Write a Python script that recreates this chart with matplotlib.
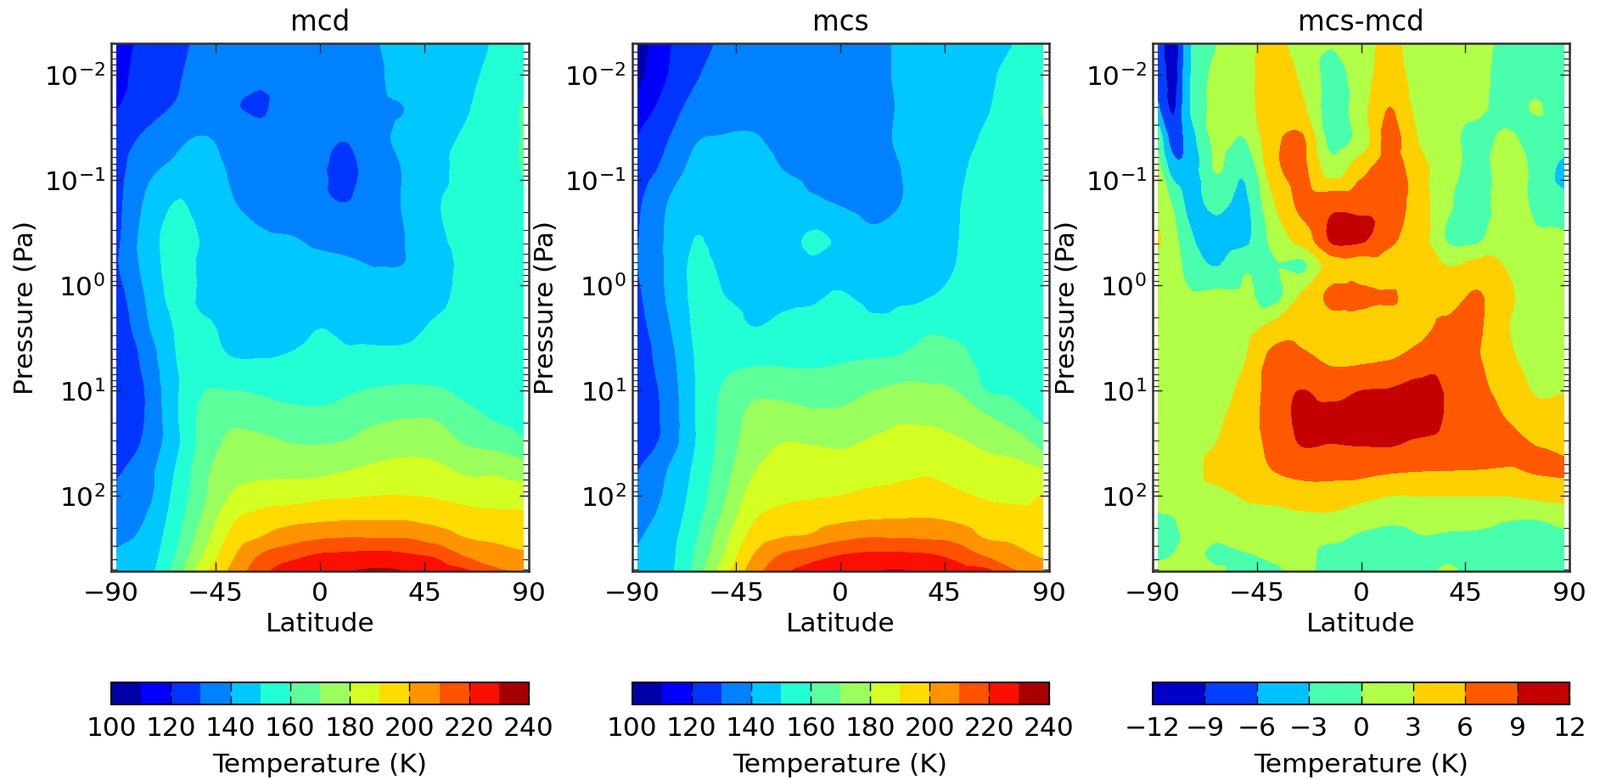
"""Latitude-pressure temperature sections: mcd, mcs and their difference."""

import matplotlib
matplotlib.use('Agg')
import matplotlib.pyplot as plt
import matplotlib.tri as mtri
from matplotlib.ticker import LogLocator, NullFormatter
import numpy as np

plt.rcParams['font.family'] = ['DejaVu Sans']
plt.rcParams['mathtext.default'] = 'regular'

pressure = [0.005, 0.01, 0.02, 0.04, 0.08, 0.16, 0.38, 0.63, 1.26, 2.5,
            5, 10, 17.8, 31.6, 56, 100, 158, 251, 355, 525]
lat = [-87.5, -75, -62.5, -50, -37.5, -25, -12.5, 0, 12.5, 25, 37.5, 50, 62.5, 75, 87.5]
lat_diff = [-87.5, -81, -75, -62.5, -50, -37.5, -25, -12.5, 0, 12.5, 25, 37.5, 50, 62.5, 75, 87.5]

# one list per latitude, top of the atmosphere first
mcd_cols = [
    [115, 117, 119.5, 124, 126, 127, 128, 129, 125, 122, 121, 121, 122, 123, 128, 133, 136, 138, 141, 143],
    [123, 124, 125, 132, 137.5, 141, 144, 143, 140.5, 138, 133, 130.5, 130.5, 132, 136, 137, 140, 142.5, 144, 146],
    [128, 129, 130.5, 137.5, 142, 150, 154, 154, 153, 150.5, 149.5, 148, 148, 147, 150, 152.5, 154.5, 157, 159.5, 163],
    [131.5, 132, 133, 140.5, 146, 146, 149, 148, 148.5, 151, 153, 159.5, 163, 164, 167, 168.5, 171.5, 176, 180, 187],
    [134, 134, 130.7, 136, 138, 140.3, 145, 146, 146, 148, 150.2, 160, 168, 172, 176, 181, 188, 193.5, 198, 203],
    [135, 132, 128.7, 133, 135, 136, 142, 145, 145, 147, 150, 158.5, 166, 172, 177, 185, 193, 200.5, 210, 217],
    [135, 135, 136, 132, 133, 133, 141, 144, 145, 147, 151, 156, 164, 170, 177, 186, 195.6, 206, 215.5, 226],
    [136, 136, 135, 131.5, 130.7, 131, 138, 143, 145, 149.8, 153, 156, 163, 169.5, 177, 188, 197, 209, 220, 229],
    [137, 137, 137, 130.5, 128, 130, 136, 141.5, 145, 147, 152.5, 159, 165, 171, 179.5, 189, 198, 210, 221, 230],
    [139.8, 139, 138, 138, 136, 135, 135, 139.5, 145, 147.5, 152.5, 161, 168, 175, 182, 190, 198, 209.5, 222, 232],
    [143, 144, 140.3, 142, 141, 141.5, 140.3, 140.3, 145, 148, 152.5, 162, 169.5, 176.5, 183, 190, 198, 209.5, 220, 230],
    [145, 146, 145, 147, 147, 149, 147.5, 146, 148, 151, 153, 161, 169, 175.5, 182, 189, 196, 205.5, 217, 227],
    [148, 148, 149, 151, 153, 153, 153, 152, 152, 153, 154, 158, 163, 169.5, 178, 187, 193.5, 200, 208, 222],
    [150.5, 152, 154, 155, 157, 156, 156, 155, 155, 155, 155, 156, 159, 167, 178, 185.5, 192.5, 198, 204.5, 212],
    [155, 156, 160.5, 160.5, 160.2, 159, 158, 157, 156, 156, 156, 155, 156, 162, 175, 185, 192, 197, 201, 209],
]

mcs_cols = [
    [104, 107, 113, 120.5, 124, 128, 129.5, 130, 128, 126, 125, 124, 124, 126, 129.5, 133, 136, 139, 141, 144],
    [118, 119.5, 124, 129, 133, 139.5, 141, 141, 140.5, 138, 135, 133, 132.5, 133, 139.5, 141.5, 143.5, 145.5, 146, 147],
    [127, 129, 133, 139, 143, 147, 150.3, 152, 152, 151.5, 150.5, 150, 150, 150, 152, 154, 156, 159, 161, 163],
    [131, 133, 135, 140.5, 142.5, 144, 146, 148, 150, 153, 157, 161.5, 163, 164, 166, 169, 172.5, 177, 180, 186],
    [133, 135, 137.5, 140.5, 143, 144.5, 146, 147, 148, 150, 158, 167.5, 172.5, 175, 179, 184, 188.5, 194, 199.5, 205],
    [134, 135, 136, 138, 140, 143, 145, 147, 148.5, 152, 158, 167, 174, 180, 184, 188, 193, 200, 210, 218],
    [135, 135, 136, 137, 138.5, 141, 152, 148.5, 149, 153, 158, 165, 172.5, 179.5, 184, 189, 195, 202, 215, 224],
    [135, 135, 135, 136, 137, 139, 148.5, 148, 150.5, 155, 159, 166, 172.5, 178.5, 185, 190, 197, 207.5, 219, 228],
    [136, 136, 136, 136, 136, 136.5, 143, 146, 148.5, 152, 160, 169.5, 175.5, 181, 186, 192, 198.5, 210, 221, 229.5],
    [141, 141, 140.5, 141, 139.5, 139.5, 144, 146, 149, 152.5, 161, 172, 178.5, 183, 188, 192.5, 199, 209.5, 221, 231],
    [142, 143, 144, 144, 144, 144.5, 146, 147.5, 149.5, 158, 165, 171.5, 178, 184, 188.5, 194, 199.5, 209, 220, 228],
    [145, 145.5, 146, 146.5, 148, 149, 149.5, 150, 152, 157.5, 163, 170, 176, 181.5, 186.5, 191.5, 197.5, 207, 216, 225],
    [147, 148, 149, 151, 153, 154, 155, 155, 155, 155.5, 157, 160, 171, 178, 184, 189, 194, 199.5, 208, 223],
    [150, 153, 154, 155, 155, 155, 155, 155, 155, 155, 156, 158, 165, 175, 183, 188, 193, 198, 203, 211],
    [154, 156, 160.5, 158, 157, 156, 155, 155, 155, 155, 155, 156, 158, 166, 180, 190, 192, 195, 198, 206],
]

diff_cols = [
    [-7, -6.5, -5.8, -1, 1, 1.5, 3.3, 2, 1.5, 1.5, 1.5, 1.5, 1.5, 1.5, 1, 1, -0.3, -1, -0.5, 1],
    [-11, -10.5, -9.5, -7.5, -4.5, -0.5, 1, 1.5, 1.5, 1.5, 1.5, 1.5, 1.5, 1.5, 1.5, 1.5, 0, -1.3, 0, 1],
    [-4, -4, -3.8, -5, -5, -3.6, -2, -1, 0.5, 1.5, 1.5, 1.5, 1.5, 1.5, 1.5, 1.5, 1, 1, 1, 1],
    [-0.1, 0.8, 1, 0.8, 0.2, -2, -4.5, -3.2, 0.7, 1.5, 1.5, 1.8, 2.5, 3, 4, 2, 1, 0.3, -0.8, 0.4],
    [2, 2, 1.8, 0, -2.5, -3.5, -3.5, -0.5, 0.5, 2, 2.9, 4, 4.5, 4.5, 4.5, 3.3, 2, 1, -0.1, -1],
    [3.6, 4.5, 5, 5.3, 5, 3, 1, -0.3, -1, 4, 7, 7.5, 7.5, 7, 6.1, 3.8, 2, 1, 0.5, -0.5],
    [1.5, 2.3, 3.3, 6.2, 6.5, 6.8, 4, -0.5, 3.5, 5, 6.5, 9.05, 9.6, 9.2, 7, 4.5, 2.5, 1.2, 0.8, 0.5],
    [0.2, -1, -1.5, -1.2, 1.5, 7.8, 9.3, 4.5, 6.8, 4.8, 5.5, 8, 10, 9, 7, 4.5, 2.5, 0.5, -1, -1],
    [1.5, 1.5, 1.8, 1.2, 5, 8, 9.2, 4.5, 6.8, 4.5, 5.5, 9, 10.5, 9.2, 7, 3.8, 1.5, -0.5, -1, -1],
    [3.8, 4.5, 6, 7, 7.5, 7.5, 6.5, 4.5, 6.2, 5, 5.9, 9.2, 10.5, 9.3, 6.5, 3, 0.8, -1, -1.5, -1.5],
    [1, 1.5, 2, 2.8, 4, 4.5, 4.5, 4.5, 5, 5.3, 7, 10, 10.5, 8.5, 6.2, 3, 1, -0.2, -1, -1],
    [1.5, 1.5, 1.5, 1, 1.5, 0.5, -0.2, 2.8, 4.7, 6.6, 8, 8.7, 8.7, 8, 6.1, 3, 1, -0.3, -0.4, 0.4],
    [1.5, 1, 0.7, -1, -1.5, -1.5, -0.3, 3.8, 6.3, 6.5, 6.3, 6.8, 7.5, 7.7, 6, 3, 1, -0.5, -1, -1],
    [-1, -1.2, -1, 0.5, 1.5, 1.5, 2, 2.8, 3.8, 3.3, 3.8, 5, 5.9, 7, 5.8, 3, 0.4, -1, -1.5, -1.5],
    [-1.5, -1, 0.15, -1, -0.6, -0.5, 0.5, 1.5, 1.5, 1.5, 2, 2.8, 4, 5.9, 6.3, 3.5, 0.3, -1.5, -1.5, -1.5],
    [-1.5, -1.5, -1, -1.5, -4, -2, 0.5, 1, 1.5, 2, 2.5, 2.9, 4, 5, 6.5, 3.8, 1.5, -1, -1.5, -1.5],
]

temp_levels = list(range(100, 250, 10))
temp_ticks = list(range(100, 260, 20))
diff_levels = list(range(-12, 15, 3))
diff_ticks = diff_levels

W, H = 1885, 919
FONT = 22.5
FRAME = '#303030'


def draw_panel(x0, x1, title, lats, cols, levels, ticks):
    ax = fig.add_axes([x0 / W, 1 - 673 / H, (x1 - x0) / W, (673 - 51) / H])

    # smooth the contour lines with matplotlib's cubic mesh refiner, working in log pressure
    lon_grid, p_grid = np.meshgrid(lats, np.log10(pressure))
    tri = mtri.Triangulation(lon_grid.ravel() / 12.5, p_grid.ravel() / 0.3)
    field = np.array(cols).T.ravel()
    refiner = mtri.UniformTriRefiner(tri)
    fine, fine_z = refiner.refine_field(field, mtri.CubicTriInterpolator(tri, field, kind='geom'), subdiv=3)
    cf = ax.tricontourf(fine.x * 12.5, 10 ** (fine.y * 0.3), fine_z, levels=levels, cmap='jet', extend='neither')

    ax.set_yscale('log')
    ax.set_xlim(-90, 90)
    ax.set_ylim(520, 0.005)
    ax.set_xticks([-90, -45, 0, 45, 90])
    ax.set_yticks([0.01, 0.1, 1, 10, 100])
    ax.yaxis.set_minor_locator(LogLocator(base=10, subs=range(2, 10), numticks=12))
    ax.yaxis.set_minor_formatter(NullFormatter())
    ax.tick_params(which='major', direction='in', top=True, right=True, length=8, width=1.0,
                   labelsize=FONT, color='#202020')
    ax.tick_params(axis='x', which='major', pad=9)
    ax.tick_params(axis='y', which='major', pad=5)
    ax.tick_params(which='minor', direction='in', left=True, right=True, length=5, width=0.8, color='#202020')
    ax.set_title(title, fontsize=FONT + 1, pad=11)
    ax.set_xlabel('Latitude', fontsize=FONT, labelpad=5)
    ax.set_ylabel('Pressure (Pa)', fontsize=FONT, labelpad=5)
    for spine in ax.spines.values():
        spine.set_linewidth(1.8)
        spine.set_color(FRAME)

    cax = fig.add_axes([x0 / W, 1 - 830 / H, (x1 - x0) / W, 26 / H])
    cb = fig.colorbar(cf, cax=cax, orientation='horizontal', ticks=ticks)
    cb.ax.tick_params(direction='in', top=True, bottom=True, length=7, width=1.0, labelsize=FONT, pad=10)
    cb.set_label('Temperature (K)', fontsize=FONT, labelpad=10)
    cb.outline.set_linewidth(1.4)


fig = plt.figure(figsize=(W / 100, H / 100), dpi=100, facecolor='white')
draw_panel(131, 623, 'mcd', lat, mcd_cols, temp_levels, temp_ticks)
draw_panel(744.5, 1235.5, 'mcs', lat, mcs_cols, temp_levels, temp_ticks)
draw_panel(1358, 1849, 'mcs-mcd', lat_diff, diff_cols, diff_levels, diff_ticks)

fig.savefig('out.png', dpi=100, facecolor='white')
